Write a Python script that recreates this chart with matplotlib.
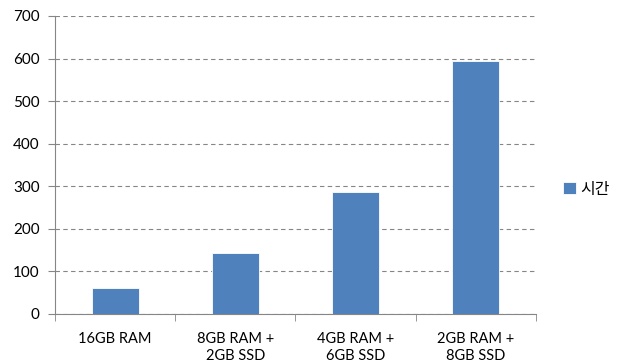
import numpy as np
import matplotlib.pyplot as plt
from matplotlib.ticker import FixedLocator

plt.rcParams['font.family'] = ['Lato', 'Noto Sans CJK KR', 'DejaVu Sans']

configs = ['16GB RAM', '8GB RAM +\n2GB SSD', '4GB RAM +\n6GB SSD', '2GB RAM +\n8GB SSD']
times = [60, 143, 287, 595]
series_name = '시간'

fig = plt.figure(figsize=(6.22, 3.64), dpi=100)
ax = fig.add_axes([0.0884, 0.1374, 0.7733, 0.8187])

x = np.arange(len(configs))
ax.bar(x, times, 0.39, color='#4F81BD', edgecolor='#ffffff', linewidth=0.6,
       label=series_name, zorder=3)

ax.set_xlim(-0.5, len(configs) - 0.5)
ax.set_ylim(0, 700)
ax.set_yticks(np.arange(0, 701, 100))
ax.set_xticks(x)
ax.set_xticklabels(configs, fontsize=10.5, linespacing=1.3)
ax.xaxis.set_minor_locator(FixedLocator(np.arange(-0.5, len(configs), 1.0)))
ax.tick_params(axis='x', which='major', length=0, pad=13)
ax.tick_params(axis='x', which='minor', length=5, color='#868686', direction='out')
ax.tick_params(axis='y', length=5, color='#868686', labelsize=11, pad=6)

ax.yaxis.grid(True, color='#868686', linestyle=(0, (4, 3)), linewidth=0.8, zorder=0)
for side in ['top', 'right']:
    ax.spines[side].set_visible(False)
for side in ['left', 'bottom']:
    ax.spines[side].set_color('#868686')

fig.legend(*ax.get_legend_handles_labels(), loc='center left',
           bbox_to_anchor=(0.882, 0.48), frameon=False,
           handlelength=0.8, handleheight=0.8, handletextpad=0.3,
           prop={'family': ['Noto Sans CJK KR'], 'size': 11.5})

fig.savefig('out.png', dpi=100)
